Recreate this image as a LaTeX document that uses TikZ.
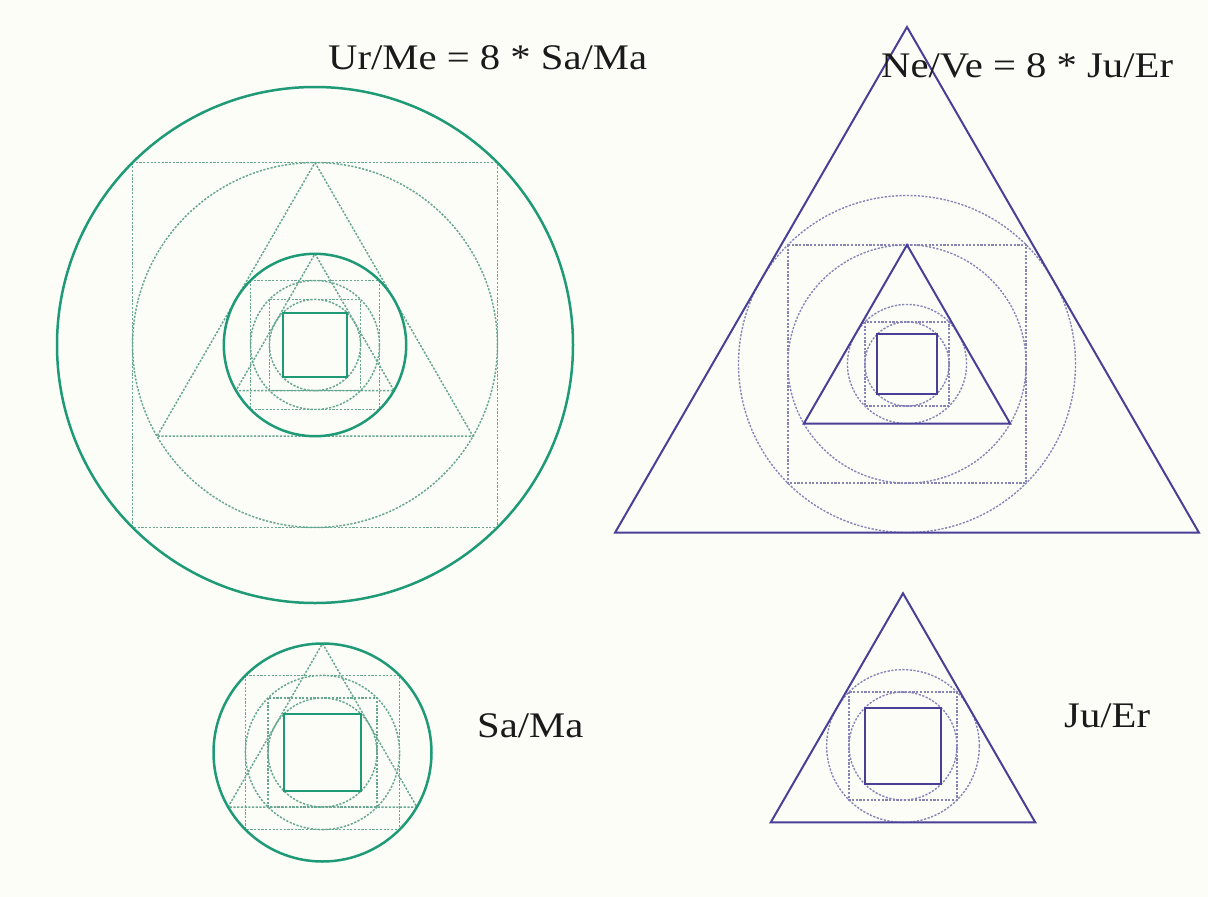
\documentclass[tikz,border=0pt]{standalone}
\usepackage{fontspec}
\setmainfont{Liberation Serif}
\usepackage{graphicx}
\definecolor{bgcol}{HTML}{FDFDF8}
\definecolor{gsol}{HTML}{1E9A76}
\definecolor{gdt}{HTML}{68A893}
\definecolor{psol}{HTML}{4A3F96}
\definecolor{pdt}{HTML}{8784B8}
\definecolor{txt}{HTML}{1A1A1A}
\tikzset{
  gsolid/.style={draw=gsol, line width=2.5pt},
  gdotted/.style={draw=gdt, line width=1.5pt, dash pattern=on 2.2pt off 1.5pt},
  psolid/.style={draw=psol, line width=2pt},
  pdotted/.style={draw=pdt, line width=1.4pt, dash pattern=on 2.2pt off 1.5pt},
  lbl/.style={inner sep=0pt, text=txt, font=\fontsize{36}{40}\selectfont},
}
\newcommand\lblbox[1]{\scalebox{1.13}[1]{#1}}
% Sa/Ma pattern: solid circle r, dotted triangle, squares and circles, solid square
\newcommand\samafig[3]{%
  \pgfmathsetmacro\rA{#3}%
  \pgfmathsetmacro\hA{#3/sqrt(2)}%
  \pgfmathsetmacro\hB{#3/2}%
  \pgfmathsetmacro\hC{#3/(2*sqrt(2))}%
  \pgfmathsetmacro\tw{#3*0.866025}%
  \draw[gdotted] (#1,#2-\rA) -- (#1+\tw,#2+\hB) -- (#1-\tw,#2+\hB) -- cycle;
  \draw[gdotted] (#1-\hA,#2-\hA) rectangle (#1+\hA,#2+\hA);
  \draw[gdotted] (#1,#2) circle[radius=\hA pt];
  \draw[gdotted] (#1-\hB,#2-\hB) rectangle (#1+\hB,#2+\hB);
  \draw[gdotted] (#1,#2) circle[radius=\hB pt];
  \draw[gsolid] (#1,#2) circle[radius=\rA pt];
  \draw[gsolid] (#1-\hC,#2-\hC) rectangle (#1+\hC,#2+\hC);
}
% Ju/Er pattern: solid triangle of circumradius R
\newcommand\juerfig[3]{%
  \pgfmathsetmacro\rA{#3}%
  \pgfmathsetmacro\hB{#3/2}%
  \pgfmathsetmacro\hA{#3/(2*sqrt(2))}%
  \pgfmathsetmacro\hC{#3/4}%
  \pgfmathsetmacro\tw{#3*0.866025}%
  \draw[pdotted] (#1,#2) circle[radius=\hB pt];
  \draw[pdotted] (#1-\hA,#2-\hA) rectangle (#1+\hA,#2+\hA);
  \draw[pdotted] (#1,#2) circle[radius=\hA pt];
  \draw[psolid] (#1,#2-\rA) -- (#1+\tw,#2+\hB) -- (#1-\tw,#2+\hB) -- cycle;
  \draw[psolid] (#1-\hC,#2-\hC) rectangle (#1+\hC,#2+\hC);
}
\begin{document}
\begin{tikzpicture}[x=1pt, y=-1pt]
\useasboundingbox (0,0) rectangle (1208,897);
\fill[bgcol] (0,0) rectangle (1208,897);

% ---- Ur/Me (top left) ----
\pgfmathsetmacro\BigR{258}
\pgfmathsetmacro\BigH{258/sqrt(2)}
\pgfmathsetmacro\BigT{258/sqrt(2)*0.866025}
\pgfmathsetmacro\BigB{258/(2*sqrt(2))}
\draw[gdotted] (315-\BigH,345-\BigH) rectangle (315+\BigH,345+\BigH);
\draw[gdotted] (315,345) circle[radius=\BigH pt];
\draw[gdotted] (315,345-\BigH) -- (315+\BigT,345+\BigB) -- (315-\BigT,345+\BigB) -- cycle;
\draw[gsolid] (315,345) circle[radius=\BigR pt];
\samafig{315}{345}{91.2}

% ---- Ne/Ve (top right) ----
\pgfmathsetmacro\TR{337}
\pgfmathsetmacro\TRb{337/2}
\pgfmathsetmacro\TRw{337*0.866025}
\pgfmathsetmacro\TRh{337/(2*sqrt(2))}
\draw[pdotted] (907,364) circle[radius=\TRb pt];
\draw[pdotted] (907-\TRh,364-\TRh) rectangle (907+\TRh,364+\TRh);
\draw[pdotted] (907,364) circle[radius=\TRh pt];
\draw[psolid] (907,364-\TR) -- (907+\TRw,364+\TRb) -- (907-\TRw,364+\TRb) -- cycle;
\juerfig{907}{364}{119.1}

% ---- Sa/Ma (bottom left) ----
\samafig{322.5}{752.5}{109}

% ---- Ju/Er (bottom right) ----
\juerfig{903}{746}{152.7}

% ---- labels ----
\node[lbl, anchor=base west] (urme) at (328,69) {\lblbox{Ur/Me = 8 * Sa/Ma}};
\node[lbl, anchor=base west] (neve) at (881,77) {\lblbox{Ne/Ve = 8 * Ju/Er}};
\node[lbl, anchor=base west] (sama) at (477,737) {\lblbox{Sa/Ma}};
\node[lbl, anchor=base west] (juer) at (1064,727) {\lblbox{Ju/Er}};
\end{tikzpicture}
\end{document}
